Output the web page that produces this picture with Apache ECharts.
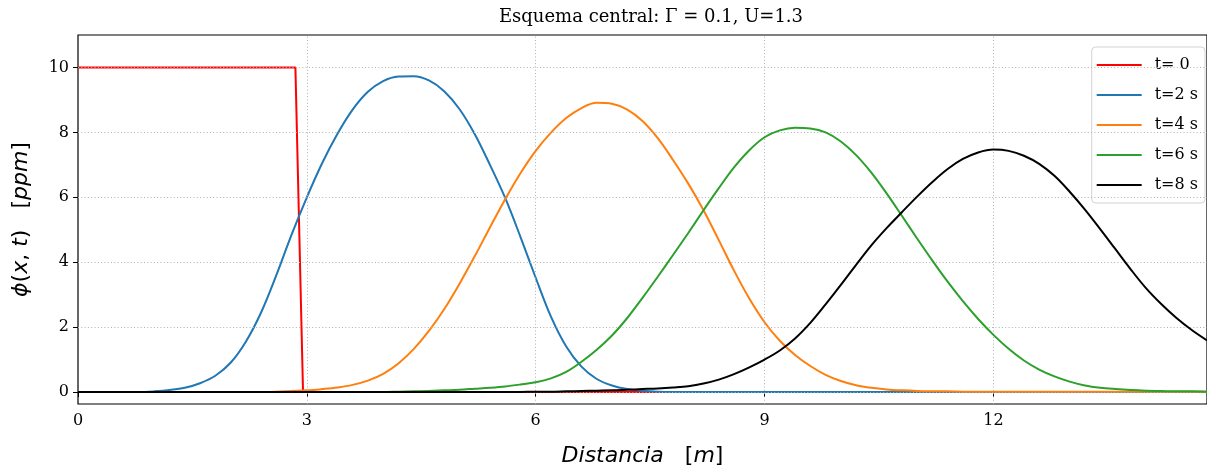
<!DOCTYPE html>
<html>
<head>
<meta charset="utf-8">
<script src="https://cdn.jsdelivr.net/npm/echarts@6/dist/echarts.min.js"></script>
<style>html,body{margin:0;padding:0;background:#fff}#c{width:1207px;height:469px}</style>
</head>
<body>
<div id="c"></div>
<script>
// ---- data ----
const titleText = 'Esquema central: Γ = 0.1, U=1.3';
const seriesNames = ['t= 0', 't=2 s', 't=4 s', 't=6 s', 't=8 s'];
const xTicks = [0, 3, 6, 9, 12];
const yTicks = [0, 2, 4, 6, 8, 10];

const xs = [0,0.2,0.4,0.6,0.8,1,1.2,1.4,1.6,1.8,2,2.2,2.4,2.6,2.8,3,3.2,3.4,3.6,3.8,
  4,4.2,4.4,4.6,4.8,5,5.2,5.4,5.6,5.8,6,6.2,6.4,6.6,6.8,7,7.2,7.4,7.6,7.8,
  8,8.2,8.4,8.6,8.8,9,9.2,9.4,9.6,9.8,10,10.2,10.4,10.6,10.8,11,11.2,11.4,11.6,11.8,
  12,12.2,12.4,12.6,12.8,13,13.2,13.4,13.6,13.8,14,14.2,14.4,14.6,14.8];

const t0X = [0, 2.85, 2.95, 14.8];
const t0Y = [10, 10, 0, 0];

const t2 = [0,0,0,0,0,0.02,0.06,0.13,0.27,0.5,0.9,1.55,2.45,3.6,4.85,6.0,7.05,7.95,8.7,9.25,
  9.58,9.72,9.73,9.6,9.27,8.72,7.95,7.0,5.98,4.78,3.52,2.32,1.4,0.78,0.4,0.2,0.09,0.04,0.01,0,
  0,0,0,0,0,0,0,0,0,0,0,0,0,0,0,0,0,0,0,0,
  0,0,0,0,0,0,0,0,0,0,0,0,0,0,0];

const t4 = [0,0,0,0,0,0,0,0,0,0,0,0,0,0.01,0.03,0.05,0.09,0.14,0.22,0.35,
  0.56,0.88,1.32,1.88,2.55,3.33,4.18,5.07,5.94,6.74,7.43,7.99,8.44,8.75,8.91,8.88,8.7,8.35,7.82,7.15,
  6.42,5.6,4.68,3.74,2.88,2.15,1.58,1.14,0.8,0.53,0.34,0.21,0.13,0.08,0.05,0.03,0.02,0.02,0.01,0.01,
  0.01,0.01,0.01,0.01,0.01,0.01,0.01,0.01,0.01,0.01,0.01,0.01,0.01,0.01,0.01];

const t6 = [0,0,0,0,0,0,0,0,0,0,0,0,0,0,0,0,0,0,0,0,
  0,0.01,0.02,0.03,0.05,0.07,0.1,0.13,0.17,0.23,0.3,0.42,0.62,0.93,1.3,1.74,2.28,2.9,3.55,4.22,
  4.9,5.6,6.28,6.92,7.45,7.85,8.06,8.14,8.12,8.0,7.72,7.3,6.76,6.12,5.43,4.73,4.05,3.4,2.8,2.25,
  1.76,1.33,0.97,0.69,0.48,0.32,0.2,0.13,0.09,0.06,0.04,0.03,0.02,0.02,0.01];

const t8 = [0,0,0,0,0,0,0,0,0,0,0,0,0,0,0,0,0,0,0,0,
  0,0,0,0,0,0,0,0,0,0,0.01,0.01,0.02,0.03,0.04,0.05,0.07,0.09,0.11,0.14,
  0.18,0.26,0.38,0.55,0.76,1.0,1.28,1.65,2.13,2.7,3.3,3.92,4.52,5.05,5.54,6.02,6.47,6.87,7.18,7.38,
  7.47,7.43,7.28,7.03,6.66,6.17,5.62,5.02,4.4,3.78,3.2,2.71,2.28,1.91,1.59];

// ---- chart ----
const pair = (xa, ya) => xa.map((x, i) => [x, ya[i]]);
const serif = 'DejaVu Serif';
const colors = ['#ff0000', '#1f77b4', '#ff7f0e', '#2ca02c', '#000000'];
const curves = [pair(t0X, t0Y), pair(xs, t2), pair(xs, t4), pair(xs, t6), pair(xs, t8)];

const gridLineStyle = { color: '#b0b0b0', width: 1, type: [1, 2.3] };

const series = [{
  type: 'line', data: [], silent: true, z: 1,
  markLine: {
    silent: true, symbol: ['none', 'none'], animation: false,
    label: { show: false },
    lineStyle: gridLineStyle,
    data: yTicks.map(v => ({ yAxis: v })).concat(xTicks.filter(v => v > 0).map(v => ({ xAxis: v })))
  }
}];
curves.forEach((d, i) => {
  series.push({
    name: seriesNames[i], type: 'line', data: d, z: 2 + i,
    symbol: 'none', showSymbol: false, smooth: i === 0 ? false : 0.35,
    lineStyle: { color: colors[i], width: 2 },
    itemStyle: { color: colors[i] },
    animation: false
  });
});

const chart = echarts.init(document.getElementById('c'), null, { renderer: 'canvas' });
chart.setOption({
  animation: false,
  backgroundColor: '#ffffff',
  title: {
    text: titleText, left: 646, top: 3, textAlign: 'center',
    textStyle: { fontFamily: serif, fontSize: 18, fontWeight: 'normal', color: '#000' }
  },
  grid: {
    left: 78, right: 0, top: 35, bottom: 65, containLabel: false, outerBoundsMode: 'none',
    show: true, borderColor: '#000', borderWidth: 1.2, backgroundColor: 'transparent'
  },
  legend: {
    data: seriesNames, right: 2, top: 47, orient: 'vertical',
    icon: 'rect', itemWidth: 45, itemHeight: 2, itemGap: 14,
    backgroundColor: '#fff', borderColor: '#d3d3d3', borderWidth: 1, borderRadius: 4,
    padding: [10, 7, 10, 5],
    textStyle: { fontFamily: serif, fontSize: 16, color: '#000', lineHeight: 16, padding: [0, 0, 0, 8] }
  },
  xAxis: {
    type: 'value', min: 0, max: 14.8, interval: 3,
    axisLine: { show: false },
    axisTick: { show: true, length: 5, customValues: xTicks, lineStyle: { color: '#000', width: 1 } },
    axisLabel: { customValues: xTicks, fontFamily: serif, fontSize: 16, color: '#000', margin: 9 },
    splitLine: { show: false },
    name: '{i|Distancia}   [{i|m}]', nameLocation: 'middle', nameGap: 41,
    nameTextStyle: {
      fontFamily: 'DejaVu Sans', fontSize: 22, color: '#000',
      rich: { i: { fontFamily: 'DejaVu Sans', fontStyle: 'italic', fontSize: 22, color: '#000' } }
    }
  },
  yAxis: {
    type: 'value', min: -0.37, max: 11,
    axisLine: { show: false },
    axisTick: { show: true, length: 5, customValues: yTicks, lineStyle: { color: '#000', width: 1 } },
    axisLabel: { customValues: yTicks, fontFamily: serif, fontSize: 16, color: '#000', margin: 9 },
    splitLine: { show: false },
    name: '{i|ϕ}({i|x}, {i|t})   [{i|ppm}]', nameLocation: 'middle', nameGap: 46, nameRotate: 90,
    nameTextStyle: {
      fontFamily: 'DejaVu Sans', fontSize: 22, color: '#000',
      rich: { i: { fontFamily: 'DejaVu Sans', fontStyle: 'italic', fontSize: 22, color: '#000' } }
    }
  },
  series: series
});
</script>
</body>
</html>
